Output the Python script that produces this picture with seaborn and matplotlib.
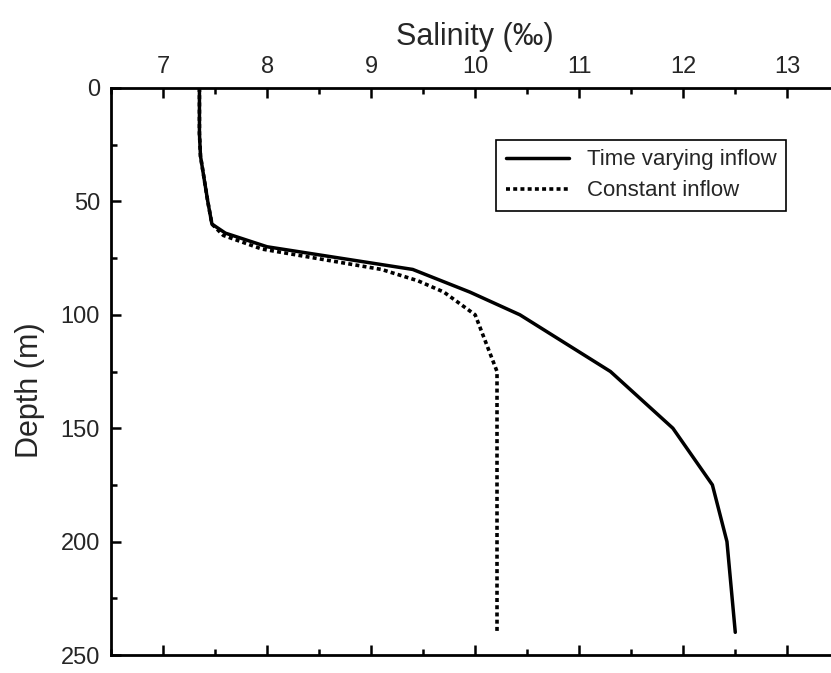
import numpy as np
import pandas as pd
import seaborn as sns
import matplotlib
matplotlib.use("Agg")
import matplotlib.pyplot as plt
from matplotlib.ticker import MultipleLocator

# 数据：深度 (m) 与盐度 (‰)
depth_tv = [0, 10, 20, 30, 50, 60, 64, 70, 80, 90, 100, 125, 150, 175, 200, 240]
sal_tv = [7.35, 7.35, 7.35, 7.36, 7.43, 7.47, 7.6, 8.0, 9.4, 9.95, 10.43, 11.3, 11.9, 12.28, 12.42, 12.5]

depth_const = [0, 10, 20, 30, 50, 60, 65, 71, 80, 85, 90, 100, 125, 150, 200, 240]
sal_const = [7.35, 7.35, 7.35, 7.36, 7.43, 7.47, 7.58, 7.95, 9.1, 9.45, 9.7, 10.0, 10.21, 10.21, 10.21, 10.21]

df = pd.concat([
    pd.DataFrame({"depth": depth_tv, "salinity": sal_tv, "series": "Time varying inflow"}),
    pd.DataFrame({"depth": depth_const, "salinity": sal_const, "series": "Constant inflow"}),
])

sns.set_theme(style="white")
plt.rcParams["font.family"] = ["Liberation Sans", "DejaVu Sans"]

fig = plt.figure(figsize=(8.31, 6.73), dpi=100)
ax = fig.add_axes([111 / 831, 1 - 655 / 673, 1 - 111 / 831, (655 - 88) / 673])

sns.lineplot(
    data=df[df.series == "Time varying inflow"], x="salinity", y="depth",
    sort=False, estimator=None, color="black", lw=2.5, ax=ax,
    label="Time varying inflow",
)
sns.lineplot(
    data=df[df.series == "Constant inflow"], x="salinity", y="depth",
    sort=False, estimator=None, color="black", lw=2.6, ax=ax,
    linestyle=(0, (1.1, 0.9)), label="Constant inflow",
)

ax.set_xlim(6.5, 13.42)
ax.set_ylim(250, 0)

# 坐标轴：上方刻度标签，刻度朝内
ax.xaxis.set_major_locator(MultipleLocator(1))
ax.xaxis.set_minor_locator(MultipleLocator(0.5))
ax.yaxis.set_major_locator(MultipleLocator(50))
ax.yaxis.set_minor_locator(MultipleLocator(25))
ax.tick_params(axis="x", which="both", direction="in", top=True, bottom=True,
               labeltop=True, labelbottom=False, labelsize=17, width=1.8, color="black")
ax.tick_params(axis="y", which="both", direction="in", left=True, right=False,
               labelsize=17, width=1.8, color="black")
ax.tick_params(which="major", length=7)
ax.tick_params(axis="x", which="major", pad=7)
ax.tick_params(axis="y", which="major", pad=8)
ax.tick_params(which="minor", length=4.5)

ax.xaxis.set_label_position("top")
ax.set_xlabel("Salinity (‰)", fontsize=22)
ax.set_ylabel("Depth (m)", fontsize=22)
ax.xaxis.set_label_coords(0.5056, 1.0765)
ax.yaxis.set_label_coords(-0.091, 0.467)

for side in ["top", "bottom", "left"]:
    ax.spines[side].set_linewidth(2)
    ax.spines[side].set_color("black")
ax.spines["right"].set_visible(False)

leg = ax.legend(loc="upper left", bbox_to_anchor=(0.535, 0.908), fontsize=16,
                frameon=True, fancybox=False, edgecolor="black", framealpha=1,
                borderpad=0.42, handlelength=2.85, handletextpad=0.8, labelspacing=0.45,
                borderaxespad=0)
leg.get_frame().set_linewidth(1.2)

fig.savefig("out.png", dpi=100)
